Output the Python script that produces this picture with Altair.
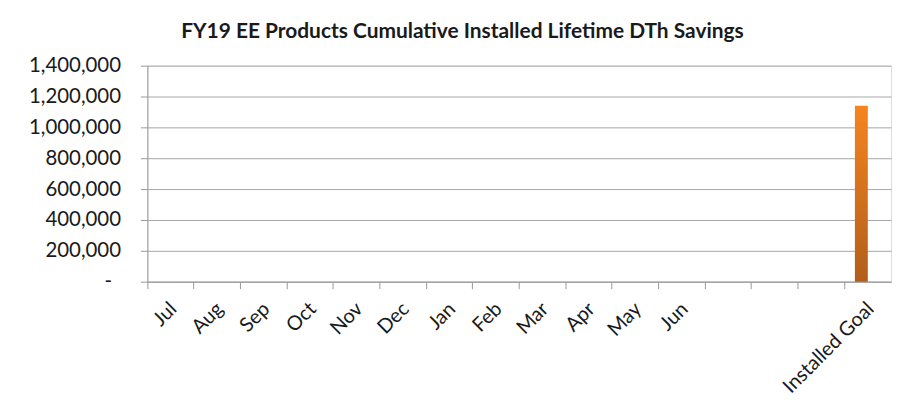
import altair as alt
import pandas as pd

categories = ["Jul", "Aug", "Sep", "Oct", "Nov", "Dec", "Jan", "Feb", "Mar",
              "Apr", "May", "Jun", " ", "  ", "   ", "Installed Goal"]
series_names = ["Goal", "Installed"]
goal_values = [None, None, None, None, None, None, None, None, None,
               None, None, None, None, None, None, 1140000]
installed_values = [None, None, None, None, None, None, None, None, None,
                    None, None, None, None, None, None, None]
y_ticks = [0, 200000, 400000, 600000, 800000, 1000000, 1200000, 1400000]

rows = []
for c, g, i in zip(categories, goal_values, installed_values):
    rows.append({"month": c, "series": series_names[0], "value": g})
    rows.append({"month": c, "series": series_names[1], "value": i})
df = pd.DataFrame(rows)

FONT = "Lato"
grad = alt.Gradient(
    gradient="linear",
    stops=[alt.GradientStop(color="#b15d1b", offset=0),
           alt.GradientStop(color="#f5851f", offset=1)],
    x1=0, x2=0, y1=1, y2=0,
)

chart = alt.Chart(df).mark_bar(fill=grad).encode(
    x=alt.X("month:N", sort=categories,
            scale=alt.Scale(domain=categories, paddingInner=0, paddingOuter=0),
            axis=alt.Axis(title=None, labelAngle=-45, labelAlign="right",
                          labelBaseline="middle", bandPosition=0, labelOffset=3,
                          labelPadding=17, tickSize=7, tickColor="#999999",
                          domainColor="#999999", labelFont=FONT, labelFontSize=20,
                          labelColor="#1a1a1a", grid=False)),
    xOffset=alt.XOffset("series:N", sort=series_names,
                        scale=alt.Scale(domain=series_names, paddingInner=0,
                                        paddingOuter=0.8)),
    y=alt.Y("value:Q",
            scale=alt.Scale(domain=[0, 1400000], nice=False),
            axis=alt.Axis(title=None, values=y_ticks,
                          labelExpr="datum.value == 0 ? '-' : format(datum.value, ',')",
                          labelPadding={"condition": {"test": "datum.value == 0", "value": 29},
                                        "value": 20},
                          tickSize=7, tickColor="#999999", domainColor="#999999",
                          gridColor="#a6a6a6", labelFont=FONT,
                          labelFontSize=20.5, labelColor="#1a1a1a")),
).properties(
    width=747, height=217,
    title=alt.TitleParams("FY19 EE Products Cumulative Installed Lifetime DTh Savings",
                          font=FONT, fontSize=21, fontWeight="bold", color="#1a1a1a",
                          anchor="middle", dx=-57, offset=14),
    padding={"left": 140, "top": 57, "right": 10, "bottom": 130},
    autosize=alt.AutoSizeParams(type="none"),
).configure_view(stroke=None).configure(background="white")

chart.save("out.html", embed_options={"renderer": "svg", "actions": False})
